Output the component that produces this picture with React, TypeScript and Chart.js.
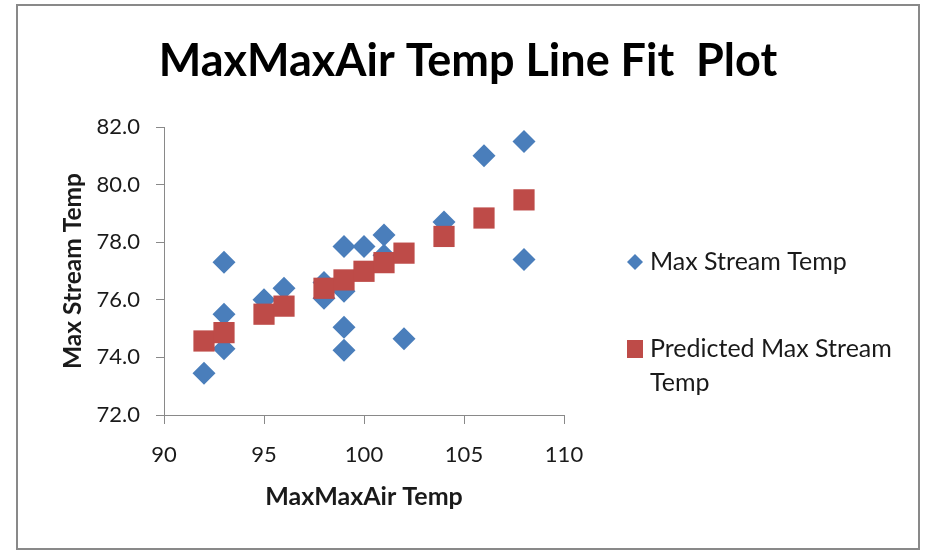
import { useEffect, useRef } from "react";
import { Chart, registerables } from "chart.js";

Chart.register(...registerables);

const TITLE = "MaxMaxAir Temp Line Fit  Plot";
const X_TITLE = "MaxMaxAir Temp";
const Y_TITLE = "Max Stream Temp";
const SERIES_ACTUAL = "Max Stream Temp";
const SERIES_PRED = "Predicted Max Stream Temp";

const actualX = [92, 93, 93, 93, 95, 96, 98, 98, 99, 99, 99, 99, 100, 101, 101, 102, 104, 106, 108, 108];
const actualY = [73.45, 77.3, 75.5, 74.3, 76.0, 76.4, 76.6, 76.05, 77.85, 76.3, 75.05, 74.25, 77.85, 78.25, 77.55, 74.65, 78.7, 81.0, 81.5, 77.4];
const predX = [92, 93, 95, 96, 98, 99, 100, 101, 102, 104, 106, 108];
const predY = [74.57, 74.86, 75.5, 75.78, 76.4, 76.69, 76.99, 77.29, 77.62, 78.2, 78.84, 79.47];
const xTicks = [90, 95, 100, 105, 110];
const yTicks = [72, 74, 76, 78, 80, 82];

const BLUE = "#4a7ebb";
const RED = "#be4b48";
const AXIS = "#898989";
const TEXT = "#1a1a1a";
const FONT = "Lato";

const framePlugin = {
  id: "frame",
  beforeDraw(chart: any) {
    const ctx = chart.ctx;
    ctx.save();
    ctx.fillStyle = "#ffffff";
    ctx.fillRect(0, 0, chart.width, chart.height);
    ctx.strokeStyle = AXIS;
    ctx.lineWidth = 2;
    ctx.strokeRect(17, 5, 902, 544);
    ctx.restore();
  },
};

const titlePlugin = {
  id: "centerTitle",
  afterDraw(chart: any) {
    const ctx = chart.ctx;
    ctx.save();
    ctx.font = `bold 45px ${FONT}`;
    ctx.fillStyle = "#000000";
    ctx.textAlign = "center";
    ctx.textBaseline = "alphabetic";
    ctx.fillText(TITLE, 468, 76);
    ctx.restore();
  },
};

const sideLegendPlugin = {
  id: "sideLegend",
  afterDraw(chart: any) {
    const ctx = chart.ctx;
    ctx.save();
    ctx.font = `25px ${FONT}`;
    ctx.textBaseline = "middle";
    ctx.textAlign = "left";
    const items = [
      { ds: 0, y: 262, style: "diamond" },
      { ds: 1, y: 349, style: "square" },
    ];
    const markerX = 635;
    const textX = 650;
    const maxW = 262;
    const lineH = 34;
    items.forEach((it) => {
      const ds = chart.data.datasets[it.ds];
      ctx.fillStyle = ds.backgroundColor;
      if (it.style === "diamond") {
        const r = 8;
        ctx.beginPath();
        ctx.moveTo(markerX, it.y - r);
        ctx.lineTo(markerX + r, it.y);
        ctx.lineTo(markerX, it.y + r);
        ctx.lineTo(markerX - r, it.y);
        ctx.closePath();
        ctx.fill();
      } else {
        ctx.fillRect(markerX - 8, it.y - 9, 16, 18);
      }
      ctx.fillStyle = TEXT;
      const words = String(ds.label).split(" ");
      const lines: string[] = [];
      let cur = "";
      words.forEach((w) => {
        const test = cur ? cur + " " + w : w;
        if (ctx.measureText(test).width > maxW && cur) {
          lines.push(cur);
          cur = w;
        } else {
          cur = test;
        }
      });
      if (cur) lines.push(cur);
      lines.forEach((ln, i) => ctx.fillText(ln, textX, it.y + i * lineH));
    });
    ctx.restore();
  },
};

export default function App() {
  const ref = useRef<HTMLCanvasElement | null>(null);

  useEffect(() => {
    if (!ref.current) return;
    const chart = new Chart(ref.current, {
      type: "scatter",
      data: {
        datasets: [
          {
            label: SERIES_ACTUAL,
            data: actualX.map((x, i) => ({ x, y: actualY[i] })),
            backgroundColor: BLUE,
            borderColor: BLUE,
            pointStyle: "rectRot",
            pointRadius: 11.5,
            pointHoverRadius: 11.5,
            borderWidth: 0,
            order: 2,
          },
          {
            label: SERIES_PRED,
            data: predX.map((x, i) => ({ x, y: predY[i] })),
            backgroundColor: RED,
            borderColor: RED,
            pointStyle: "rect",
            pointRadius: 15,
            pointHoverRadius: 15,
            borderWidth: 0,
            order: 1,
          },
        ],
      },
      options: {
        responsive: false,
        animation: false,
        events: [],
        layout: { padding: { left: 48, right: 362, top: 127, bottom: 20 } },
        plugins: {
          legend: { display: false },
          tooltip: { enabled: false },
          title: { display: false },
        },
        scales: {
          x: {
            type: "linear",
            min: xTicks[0],
            max: xTicks[xTicks.length - 1],
            afterBuildTicks: (s: any) => {
              s.ticks = xTicks.map((v) => ({ value: v }));
            },
            afterFit: (s: any) => {
              s.height = 116;
            },
            ticks: {
              color: TEXT,
              font: { family: FONT, size: 22 },
              padding: 18,
              maxRotation: 0,
            },
            grid: {
              display: true,
              drawOnChartArea: false,
              drawTicks: true,
              tickLength: 9,
              tickColor: AXIS,
            },
            border: { display: true, color: AXIS, width: 1 },
            title: {
              display: true,
              text: X_TITLE,
              color: TEXT,
              font: { family: FONT, size: 25, weight: "bold", lineHeight: 1.2 },
              padding: { top: 0, bottom: 19 },
            },
          },
          y: {
            type: "linear",
            min: yTicks[0],
            max: yTicks[yTicks.length - 1],
            afterBuildTicks: (s: any) => {
              s.ticks = yTicks.map((v) => ({ value: v }));
            },
            afterFit: (s: any) => {
              s.width = 116;
            },
            ticks: {
              color: TEXT,
              font: { family: FONT, size: 22 },
              padding: 16,
              callback: (v: any) => Number(v).toFixed(1),
            },
            grid: {
              display: true,
              drawOnChartArea: false,
              drawTicks: true,
              tickLength: 8,
              tickColor: AXIS,
            },
            border: { display: true, color: AXIS, width: 1 },
            title: {
              display: true,
              text: Y_TITLE,
              color: TEXT,
              font: { family: FONT, size: 24.5, weight: "bold", lineHeight: 1.2 },
              padding: { top: 10, bottom: 0 },
            },
          },
        },
      },
      plugins: [framePlugin, titlePlugin, sideLegendPlugin],
    } as any);
    return () => chart.destroy();
  }, []);

  return (
    <div style={{ position: "absolute", left: 0, top: 0, width: 926, height: 551 }}>
      <canvas ref={ref} width={926} height={551} style={{ display: "block" }} />
    </div>
  );
}
